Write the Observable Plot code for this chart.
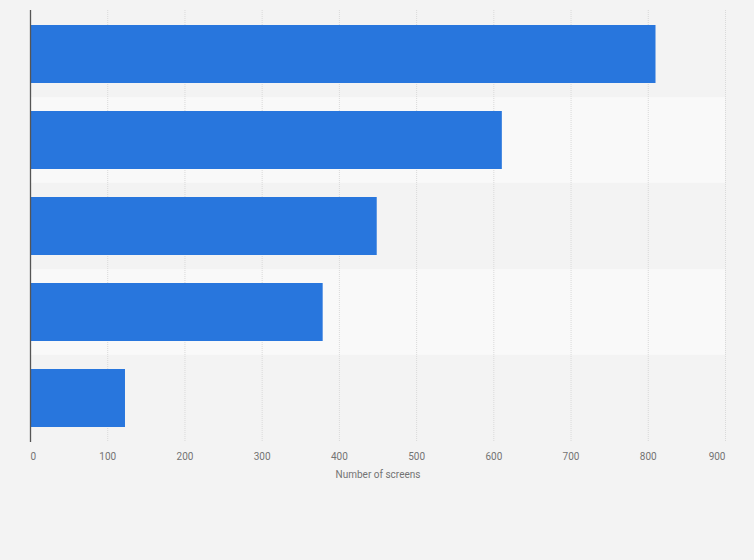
<!DOCTYPE html>
<html>
<head>
<meta charset="utf-8">
<script src="https://cdn.jsdelivr.net/npm/d3@7"></script>
<script src="https://cdn.jsdelivr.net/npm/@observablehq/plot@0.6"></script>
<style>
  html, body { margin: 0; padding: 0; background: #f3f3f3; }
  svg { display: block; }
</style>
</head>
<body>
<div id="chart"></div>
<script>
const categories = ["Category 1", "Category 2", "Category 3", "Category 4", "Category 5"];
const screens = [810, 611, 449, 379, 123];
const xTicks = [0, 100, 200, 300, 400, 500, 600, 700, 800, 900];
const bandFills = ["#f3f3f3", "#f9f9f9", "#f3f3f3", "#f9f9f9", "#f3f3f3"];

const data = categories.map((c, i) => ({category: c, value: screens[i], band: bandFills[i]}));

const W = 754, H = 560;
const mTop = 10, mBottom = 118, mLeft = 30, mRight = 29;
const pad = 0.32;
const step = (H - mTop - mBottom) / categories.length;
const bandInset = -(step * pad) / 2;

const font = "Roboto, 'Noto Sans', sans-serif";
const textColor = "#737373";

const chart = Plot.plot({
  width: W,
  height: H,
  marginTop: mTop,
  marginBottom: mBottom,
  marginLeft: mLeft,
  marginRight: mRight,
  style: {background: "#f3f3f3", fontFamily: font, fontSize: "10px", color: textColor},
  x: {domain: [0, 900]},
  y: {domain: categories, paddingInner: pad, paddingOuter: pad / 2, axis: null},
  marks: [
    Plot.barX(data, {x1: 0, x2: 900, y: "category", fill: "band", insetTop: bandInset, insetBottom: bandInset}),
    Plot.gridX(xTicks.slice(1), {stroke: "#d9d9d9", strokeOpacity: 1, strokeDasharray: "1,1"}),
    Plot.barX(data, {x: "value", y: "category", fill: "#2876dd"}),
    Plot.axisX(xTicks.slice(1, -1), {tickSize: 0, tickPadding: 10, fill: textColor, fontSize: 10, label: null}),
    Plot.axisX([xTicks[0]], {tickSize: 0, tickPadding: 10, fill: textColor, fontSize: 10, textAnchor: "start", label: null}),
    Plot.axisX([xTicks[xTicks.length - 1]], {tickSize: 0, tickPadding: 10, fill: textColor, fontSize: 10, textAnchor: "end", label: null}),
    Plot.axisX({ticks: [], tickSize: 0, label: "Number of screens", labelAnchor: "center", labelArrow: "none", labelOffset: 35, fill: textColor, fontSize: 10}),
    Plot.ruleX([0], {stroke: "#555", strokeWidth: 1.3})
  ]
});
document.getElementById("chart").appendChild(chart);
</script>
</body>
</html>
